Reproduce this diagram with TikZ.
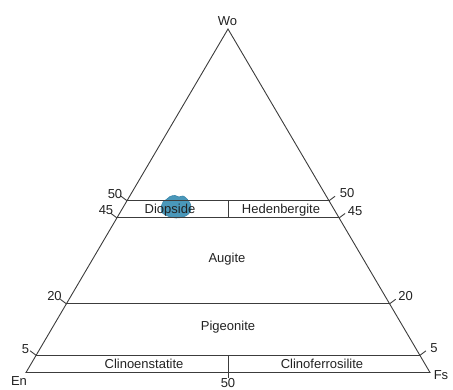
\documentclass[tikz,border=0pt]{standalone}
\usepackage{fontspec}
\setmainfont{Liberation Sans}
\usetikzlibrary{calc}
\definecolor{linec}{HTML}{3C3C3C}
\definecolor{textc}{HTML}{222222}
\definecolor{blobc}{HTML}{4A98BA}
\definecolor{blobe}{HTML}{3A86AA}
\begin{document}
\begin{tikzpicture}[x=1pt,y=-1pt,
  edge/.style={draw=linec, line width=0.9pt},
  lbl/.style={text=textc, font=\fontsize{13}{15}\selectfont, inner sep=0pt},
  blob/.style={fill=blobc, draw=blobe, line width=0.6pt}
]
\useasboundingbox (0,0) rectangle (453,390);
% corners
\coordinate (En) at (26,372.5);
\coordinate (Fs) at (430,372.5);
\coordinate (Wo) at (228,29);
% intersections of horizontal lines with the sides
\coordinate (La) at ($(En)!0.05!(Wo)$);
\coordinate (Ra) at ($(Fs)!0.05!(Wo)$);
\coordinate (Lb) at ($(En)!0.20!(Wo)$);
\coordinate (Rb) at ($(Fs)!0.20!(Wo)$);
\coordinate (Lc) at ($(En)!0.45!(Wo)$);
\coordinate (Rc) at ($(Fs)!0.45!(Wo)$);
\coordinate (Ld) at ($(En)!0.50!(Wo)$);
\coordinate (Rd) at ($(Fs)!0.50!(Wo)$);
% tick ends
\coordinate (tLa) at ($(La)+(-6,-4.5)$);
\coordinate (tRa) at ($(Ra)+(6,-4.5)$);
\coordinate (tLb) at ($(Lb)+(-6,-4.5)$);
\coordinate (tRb) at ($(Rb)+(6,-4.5)$);
\coordinate (tLc) at ($(Lc)+(-6,-4.5)$);
\coordinate (tRc) at ($(Rc)+(6,-4.5)$);
\coordinate (tLd) at ($(Ld)+(-6,-4.5)$);
\coordinate (tRd) at ($(Rd)+(6,-4.5)$);
% dividers
\coordinate (Ma) at ($(La)!0.5!(Ra)$);
\coordinate (Mbot) at (228,378);
\coordinate (Mc) at ($(Lc)!0.5!(Rc)$);
\coordinate (Md) at ($(Ld)!0.5!(Rd)$);

% blue blob
\path[blob] plot[smooth cycle, tension=0.65] coordinates {(161,209) (163,202) (167,199) (170,196.5) (175,195.5) (179,197) (183,196) (187,199) (190,203) (191,209) (188.5,214) (183,217) (176,218) (169,216.5) (163,213.5)};

% triangle and lines
\draw[edge] (En) -- (Wo) -- (Fs) -- cycle;
\draw[edge] (La) -- (Ra);
\draw[edge] (Lb) -- (Rb);
\draw[edge] (Lc) -- (Rc);
\draw[edge] (Ld) -- (Rd);
\draw[edge] (Ma) -- (Mbot);
\draw[edge] (Md) -- (Mc);
\draw[edge] (La) -- (tLa);
\draw[edge] (Ra) -- (tRa);
\draw[edge] (Lb) -- (tLb);
\draw[edge] (Rb) -- (tRb);
\draw[edge] (Lc) -- (tLc);
\draw[edge] (Rc) -- (tRc);
\draw[edge] (Ld) -- (tLd);
\draw[edge] (Rd) -- (tRd);

% corner labels
\node[lbl] (nWo) at (227.5,21) {Wo};
\node[lbl] (nEn) at (19,381.5) {En};
\node[lbl] (nFs) at (441,375.5) {Fs};

% tick labels
\node[lbl] (l50) at (115,194.5) {50};
\node[lbl] (l45) at (106,210.5) {45};
\node[lbl] (l20) at (54.5,296) {20};
\node[lbl] (l5) at (25.5,349.5) {5};
\node[lbl] (r50) at (347,193.5) {50};
\node[lbl] (r45) at (355,211) {45};
\node[lbl] (r20) at (405.5,296) {20};
\node[lbl] (r5) at (434,348.5) {5};
\node[lbl] (b50) at (228,383.3) {50};

% field names
\node[lbl, anchor=base] (diop) at (170,213.5) {Diopside};
\node[lbl, anchor=base] (hed) at (281,213.5) {Hedenbergite};
\node[lbl, anchor=base] (aug) at (227,262.5) {Augite};
\node[lbl, anchor=base] (pig) at (228,330.5) {Pigeonite};
\node[lbl, anchor=base] (cen) at (144,369) {Clinoenstatite};
\node[lbl, anchor=base] (cfs) at (322,369) {Clinoferrosilite};
\end{tikzpicture}
\end{document}
